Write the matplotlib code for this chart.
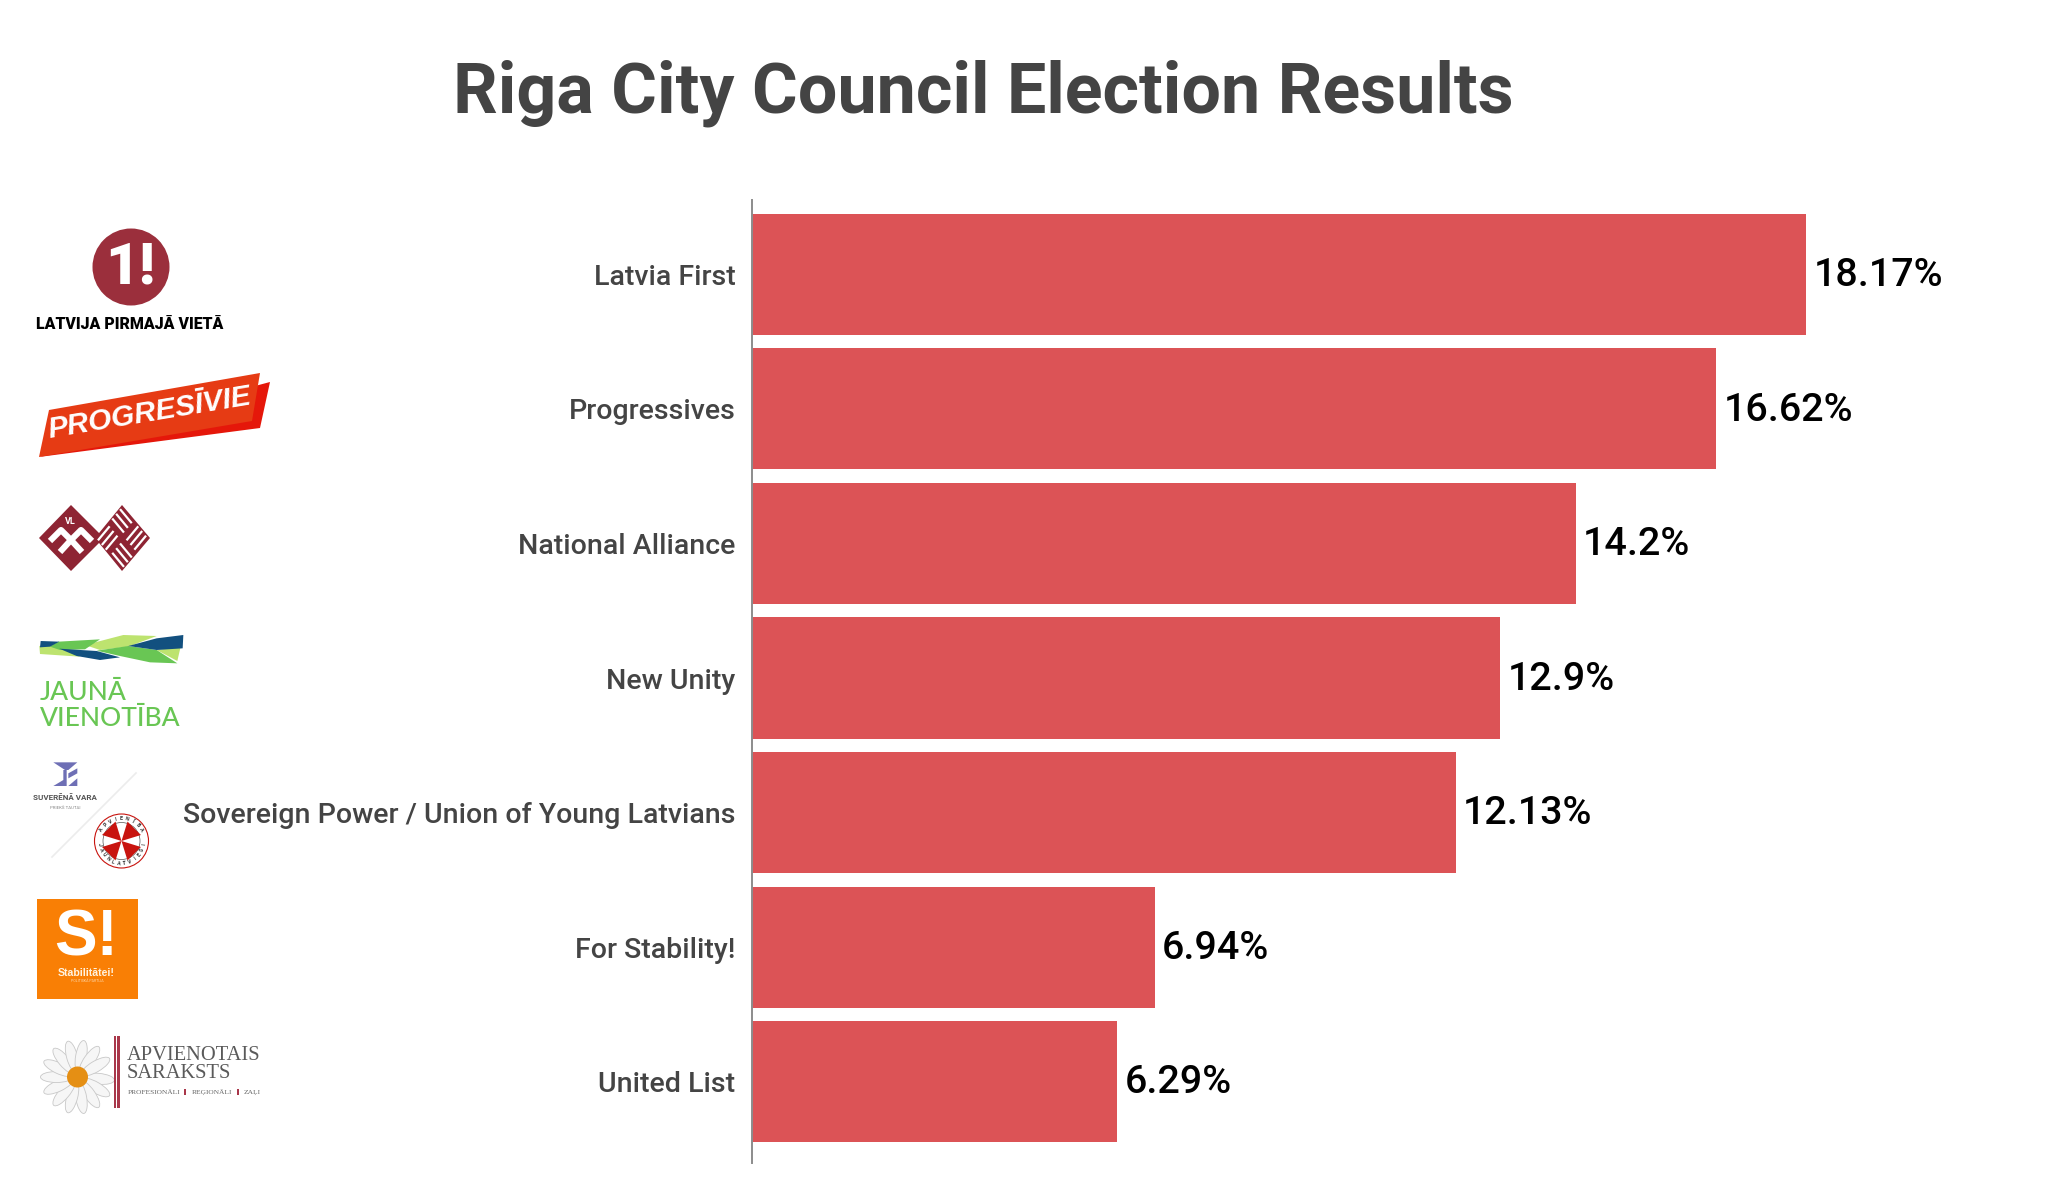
import numpy as np
import matplotlib
matplotlib.use('Agg')
import matplotlib.pyplot as plt
from matplotlib.patches import Circle, Ellipse, Polygon, Rectangle

# =====================================================================
# DATA
# =====================================================================
parties = ['Latvia First', 'Progressives', 'National Alliance', 'New Unity',
           'Sovereign Power / Union of Young Latvians', 'For Stability!', 'United List']
votes = [18.17, 16.62, 14.2, 12.9, 12.13, 6.94, 6.29]
vote_labels = ['18.17%', '16.62%', '14.2%', '12.9%', '12.13%', '6.94%', '6.29%']

title = 'Riga City Council Election Results'

W, H = 2048, 1185
plt.rcParams['font.family'] = ['Roboto', 'DejaVu Sans']


def box(x0, y0, x1, y1):
    # pixel box (y down) to figure fractions
    return [x0 / W, 1 - y1 / H, (x1 - x0) / W, (y1 - y0) / H]


def z(pts, ox, oy):
    return [(ox + x / 3, oy + y / 3) for x, y in pts]


fig = plt.figure(figsize=(W / 100, H / 100), dpi=100, facecolor='white')

# =====================================================================
# BAR CHART
# =====================================================================
ax = fig.add_axes(box(752, 200, 752 + 58 * 22, 1163))
ax.barh(range(len(votes)), votes, height=0.9, color='#dc5356')
ax.set_xlim(0, 22)
ax.set_ylim(6.605, -0.553)
ax.set_yticks(range(len(parties)))
ax.set_yticklabels(parties, fontsize=20.5, fontweight='medium', color='#444444')
ax.tick_params(axis='y', length=0, pad=12)
ax.set_xticks([])
for s in ['top', 'right', 'bottom']:
    ax.spines[s].set_visible(False)
ax.spines['left'].set_color('#8c8c8c')
ax.spines['left'].set_linewidth(1.4)
for i, v in enumerate(votes):
    ax.annotate(vote_labels[i], (v, i), xytext=(5.5, -0.8), textcoords='offset points',
                va='center', ha='left', fontsize=28.4, fontweight='medium', color='black')
ax.patch.set_alpha(0)

fig.text(983 / W, 1 - 93 / H, title, ha='center', va='center',
         fontsize=50.4, fontweight='bold', color='#444444')

# =====================================================================
# PARTY LOGOS (overlay in image pixels)
# =====================================================================
lg = fig.add_axes([0, 0, 1, 1], zorder=-1)
lg.set_xlim(0, W)
lg.set_ylim(H, 0)
lg.axis('off')


def latvia_first(a):
    a.add_patch(Circle((131, 267), 38.5, color='#9b2f3c', lw=0))
    a.text(130, 268, '1!', ha='center', va='center', fontsize=42, fontweight='black', color='white')
    a.text(129.5, 324, 'LATVIJA PIRMAJĀ VIETĀ', ha='center', va='center', fontsize=11.4,
           fontweight='black', color='black')


def progressives(a):
    a.add_patch(Polygon([(240, 390), (270, 382), (260, 428), (39, 457)], color='#e5170a', lw=0))
    a.add_patch(Polygon([(49, 410), (260, 373), (252, 421), (39, 457)], color='#e63b14', lw=0))
    a.text(150, 413, 'PROGRESĪVIE', ha='center', va='center', rotation=9.5, rotation_mode='anchor',
           fontsize=21.5, fontweight='bold', style='italic', family='Liberation Sans', color='white')


def national_alliance(a):
    col = '#8e2433'
    a.add_patch(Polygon([(71, 505), (104, 538), (71, 571), (39, 538)], color=col, lw=0))
    a.add_patch(Polygon([(122, 505), (150, 538), (122, 571), (95, 538)], color=col, lw=0))
    a.text(70, 522, 'VL', ha='center', va='center', fontsize=6.5, fontweight='bold', color='white')
    for seg in [[(50, 541), (61, 530), (71, 540), (81, 530), (92, 541)],
                [(60, 552), (71, 540), (82, 552)]]:
        xs, ys = zip(*seg)
        a.plot(xs, ys, color='white', lw=4.4, solid_capstyle='butt')

    # basket weave on the right diamond, one set of strokes per quadrant
    def uv(u, v):
        return 122 + (u - v) * 0.65, 538 + (u + v) * 0.78

    for off in [5, 11, 17]:
        for p, q in [(uv(2, off), uv(20, off)), (uv(-20, -off), uv(-2, -off)),
                     (uv(off, -20), uv(off, -2)), (uv(-off, 2), uv(-off, 20))]:
            a.plot([p[0], q[0]], [p[1], q[1]], color='white', lw=1.6, solid_capstyle='butt')


def new_unity(a):
    blue, green, light = '#12507f', '#69c654', '#bde36f'
    ox, oy = 0, 600
    for pts, c in [([(118, 138), (180, 128), (240, 170), (120, 162)], light),
                   ([(255, 135), (370, 105), (470, 108), (385, 140), (300, 150)], light),
                   ([(470, 150), (542, 140), (532, 183)], light),
                   ([(175, 125), (300, 118), (255, 148), (180, 150), (150, 140)], green),
                   ([(290, 152), (385, 138), (470, 150), (532, 190), (450, 187), (360, 168)], green),
                   ([(122, 123), (178, 125), (150, 140), (120, 142)], blue),
                   ([(178, 146), (290, 153), (360, 172), (300, 180), (230, 168)], blue),
                   ([(385, 138), (470, 115), (550, 105), (548, 145), (470, 150)], blue)]:
        a.add_patch(Polygon(z(pts, ox, oy), color=c, lw=0))
    a.text(40, 692, 'JAUNĀ', ha='left', va='center', family='Lato', fontweight='medium', fontsize=19, color=green)
    a.text(40, 719, 'VIENOTĪBA', ha='left', va='center', family='Lato', fontweight='medium', fontsize=19, color=green)


def sovereign(a):
    purple = '#6e6fb5'
    a.plot([136, 52], [773, 857], color='#ececec', lw=1.2)
    a.add_patch(Polygon(z([(160, 487), (232, 487), (205, 510), (195, 510)], 0, 600), color=purple, lw=0))
    a.add_patch(Polygon(z([(160, 558), (190, 540), (190, 510), (200, 510), (200, 558)], 0, 600), color=purple, lw=0))
    a.add_patch(Polygon(z([(205, 520), (232, 505), (232, 520), (205, 535)], 0, 600), color=purple, lw=0))
    a.add_patch(Polygon(z([(205, 558), (232, 535), (232, 558)], 0, 600), color=purple, lw=0))
    a.text(65, 797, 'SUVERĒNĀ VARA', ha='center', va='center', fontsize=5.8,
           fontweight='bold', color='#555555')
    a.text(65, 808, 'PRIEKŠ TAUTAI', ha='center', va='center', fontsize=3.2, color='#888888')
    cx, cy = 121.5, 841
    a.add_patch(Circle((cx, cy), 27, fc='white', ec='#c8140f', lw=0.8))
    a.add_patch(Circle((cx, cy), 18.5, fc='white', ec='#555555', lw=0.5))
    for ang in [45, 135, 225, 315]:
        t = np.radians(ang)
        n = t + np.pi / 2
        tip = (cx + 18 * np.cos(t), cy + 18 * np.sin(t))
        a.add_patch(Polygon([(cx, cy),
                             (tip[0] + 9.5 * np.cos(n), tip[1] + 9.5 * np.sin(n)),
                             (tip[0] - 9.5 * np.cos(n), tip[1] - 9.5 * np.sin(n))],
                            color='#c8140f', lw=0))
    for word, mid, sign in [('APVIENĪBA', -90, 1), ('JAUNLATVIEŠI', 90, -1)]:
        for k, ch in enumerate(word):
            ang = mid + sign * (k - (len(word) - 1) / 2) * 15
            t = np.radians(ang)
            a.text(cx + 22.5 * np.cos(t), cy + 22.5 * np.sin(t), ch, ha='center', va='center',
                   fontsize=3.8, fontweight='bold', color='#333333',
                   rotation=-ang - 90 if sign > 0 else -ang + 90, rotation_mode='anchor')


def stability(a):
    a.add_patch(Rectangle((37, 899), 100.5, 99.5, color='#f97f05', lw=0))
    a.text(86, 938, 'S!', ha='center', va='center', fontsize=46, fontweight='bold',
           family='Liberation Sans', color='white')
    a.text(86.5, 973, 'Stabilitātei!', ha='center', va='center', fontsize=7.6, fontweight='bold',
           family='Liberation Sans', color='#fff3e0')
    a.text(87, 981, 'POLITISKĀ PARTIJA', ha='center', va='center', fontsize=2.6, color='#fdd6a8')


def united_list(a):
    cx, cy = 77.5, 1077
    for ang in [5, 30, 55, 80, 105, 130, 155, 180, 205, 230, 255, 280, 305, 330]:
        t = np.radians(ang)
        a.add_patch(Ellipse((cx + 21 * np.cos(t), cy + 21 * np.sin(t)), 32, 11, angle=ang,
                            fc='#f6f6f6', ec='#c8c8c8', lw=0.6))
    a.add_patch(Circle((cx, cy), 10.5, color='#e58f14', lw=0))
    a.add_patch(Rectangle((113.5, 1036), 2.6, 72, color='#a9374a', lw=0))
    a.add_patch(Rectangle((117.2, 1036), 2.6, 72, color='#a9374a', lw=0))
    a.text(127, 1056, 'APVIENOTAIS', ha='left', va='center', family='Liberation Serif',
           fontsize=14.8, color='#5a5a5a')
    a.text(127, 1073, 'SARAKSTS', ha='left', va='center', family='Liberation Serif',
           fontsize=14.8, color='#5a5a5a')
    a.text(128, 1092, 'PROFESIONĀLI', ha='left', va='center', family='Liberation Serif',
           fontsize=5.4, color='#666666')
    a.text(192, 1092, 'REĢIONĀLI', ha='left', va='center', family='Liberation Serif',
           fontsize=5.4, color='#666666')
    a.text(244, 1092, 'ZAĻI', ha='left', va='center', family='Liberation Serif',
           fontsize=5.4, color='#666666')
    a.add_patch(Rectangle((183.5, 1089), 2, 6, color='#a9374a', lw=0))
    a.add_patch(Rectangle((236.5, 1089), 2, 6, color='#a9374a', lw=0))


latvia_first(lg)
progressives(lg)
national_alliance(lg)
new_unity(lg)
sovereign(lg)
stability(lg)
united_list(lg)

fig.savefig('out.png', dpi=100, facecolor='white')
